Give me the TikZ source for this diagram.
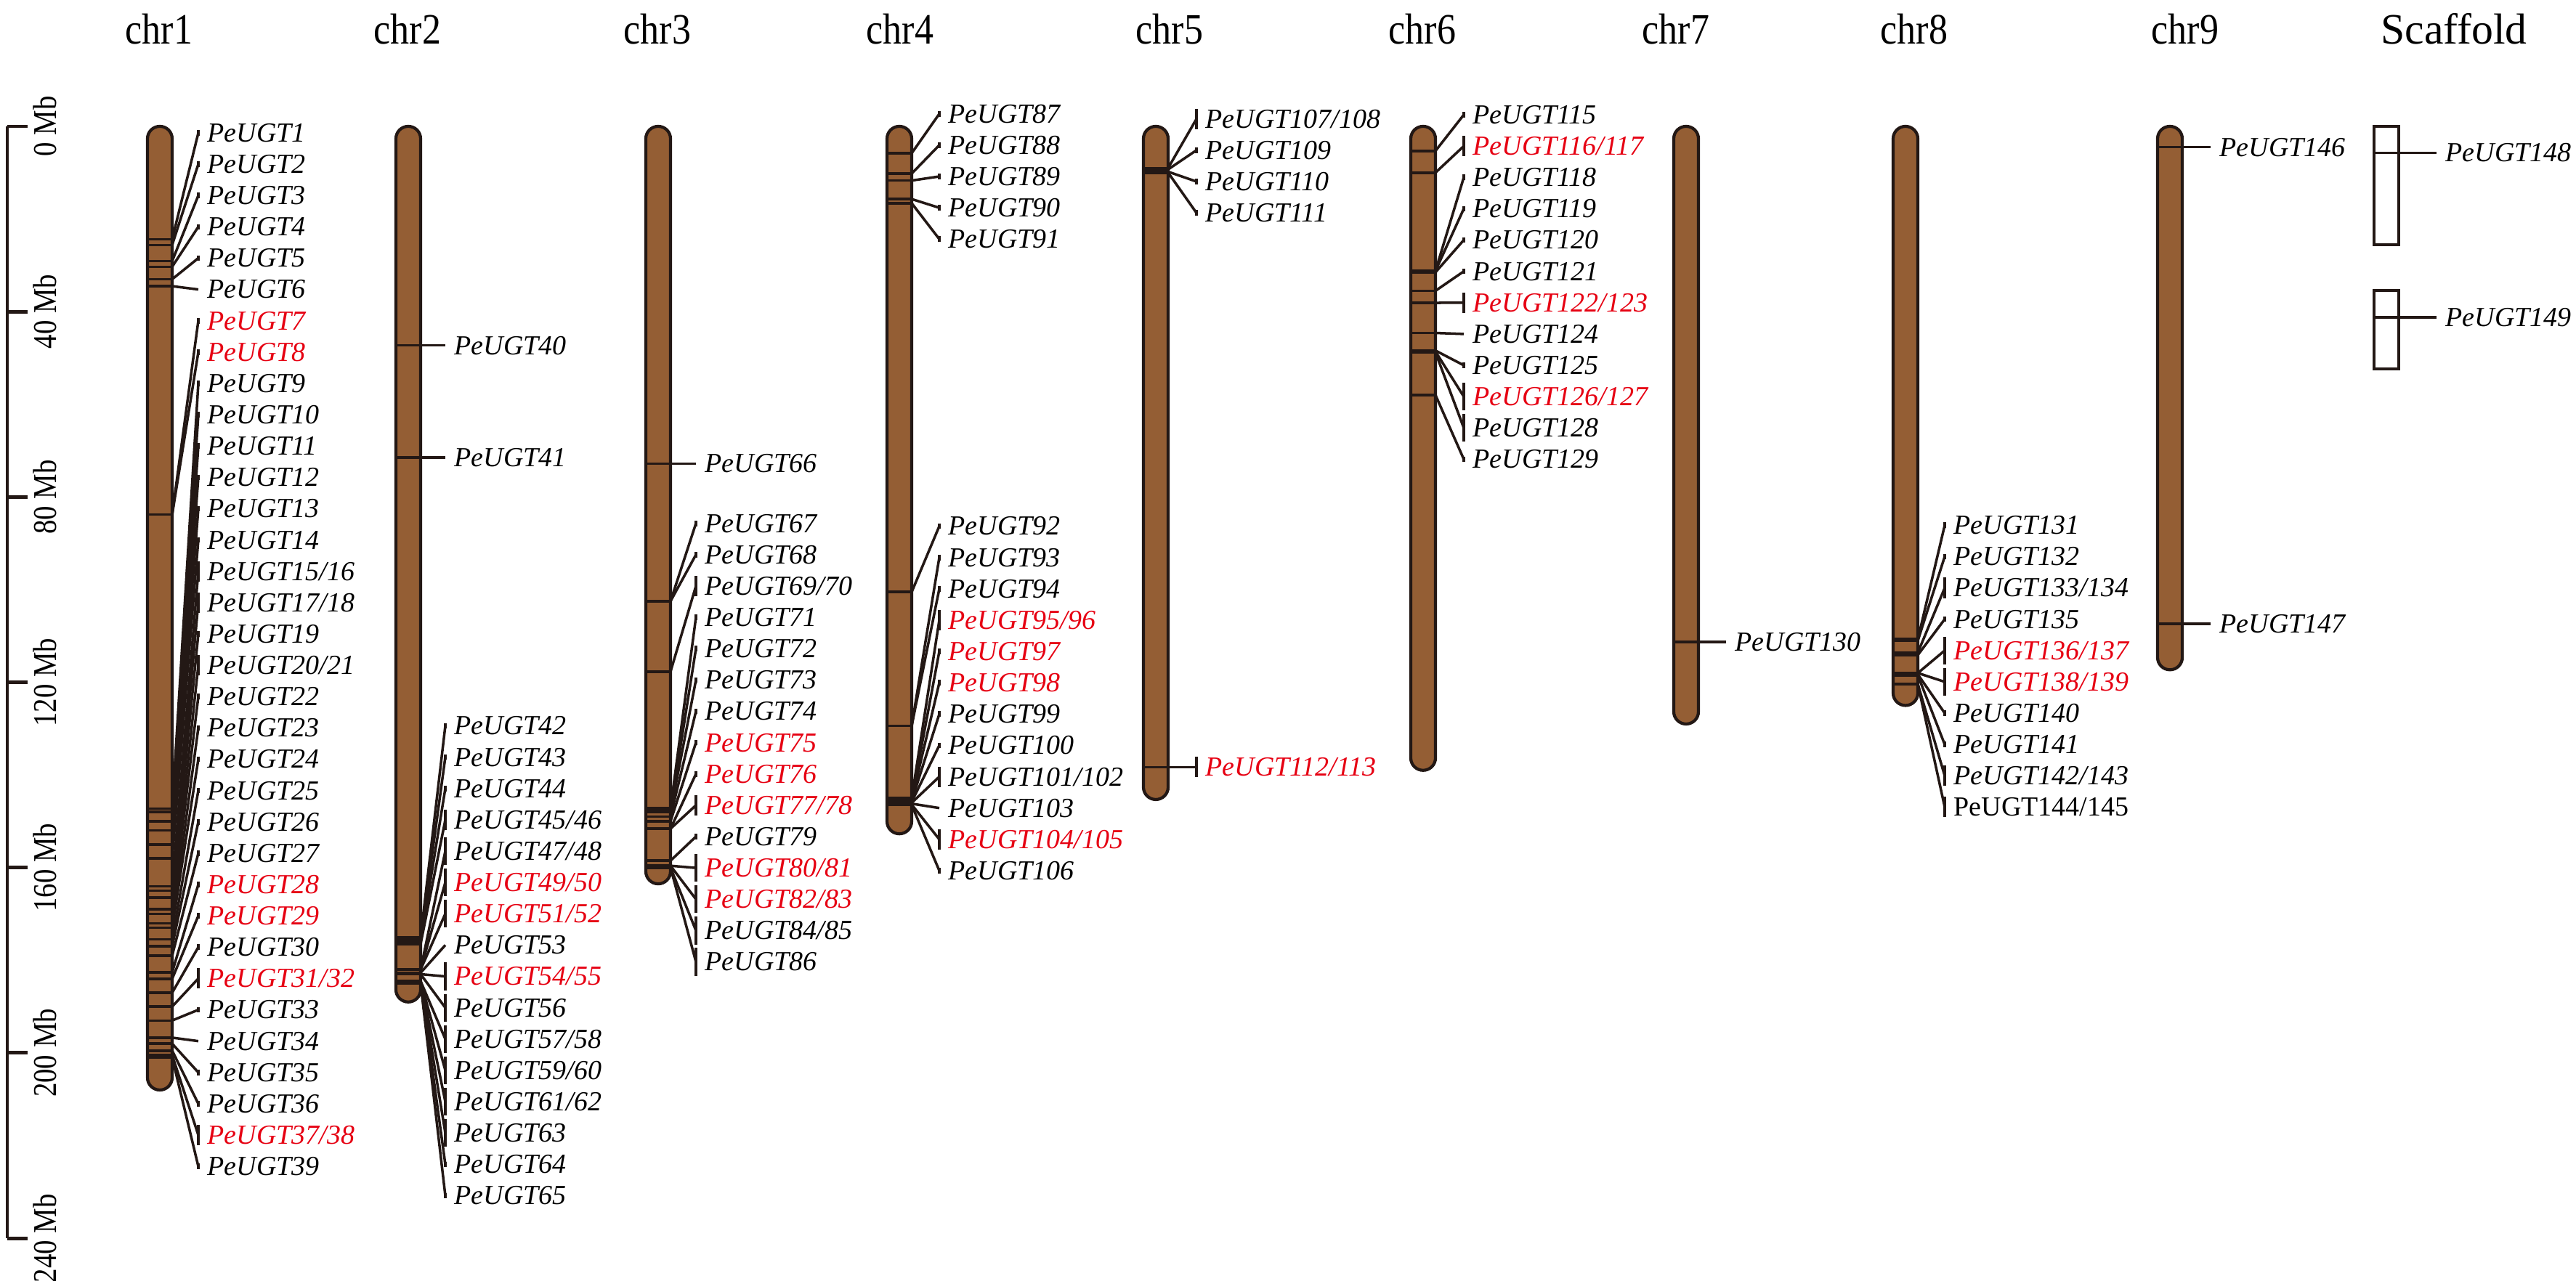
\documentclass[tikz,border=0pt]{standalone}
\usepackage{fontspec}
\setmainfont{Liberation Serif}
\usepackage{tikz}

\definecolor{chrbrown}{RGB}{148,94,52}
\definecolor{chrline}{RGB}{35,24,21}
\definecolor{ugtred}{RGB}{230,0,18}

\tikzset{
  bar/.style={fill=chrbrown, draw=chrline, line width=1.2pt, rounded corners=1.7mm},
  sbox/.style={fill=white, draw=chrline, line width=1.2pt},
  band/.style={draw=chrline, line width=1pt},
  conn/.style={draw=chrline, line width=1pt},
  axis/.style={draw=chrline, line width=1.4pt},
  lab/.style={anchor=west, inner sep=0pt, font=\fontsize{10.8}{12}\selectfont\itshape},
  blk/.style={text=black},
  hl/.style={text=ugtred},
  uprt/.style={text=black, font=\fontsize{10.8}{12}\selectfont\upshape},
  head/.style={font=\fontsize{17}{20}\selectfont},
  scalelab/.style={font=\fontsize{13}{15}\selectfont, rotate=90, xscale=0.85}
}

% one block of genes: prefix, bar left, tick x, first label y, list
\newcommand{\genegroup}[5]{%
  \foreach \g/\txt/\col/\hh [count=\kk from 0] in {#5}{%
    \pgfmathsetmacro{\ly}{#4+6.76*\kk}
    \coordinate (#1g\kk) at ({#2+34},\g);
    \coordinate (#1t\kk) at (#3,\ly);
    \node[lab,\col] (#1n\kk) at ({#3+12},\ly) {\txt};
    \draw[band] (#2,\g) -- (#1g\kk);
    \draw[conn] (#1g\kk) -- (#1t\kk);
    \draw[conn] (#3,{\ly-\hh}) -- (#3,{\ly+\hh});
  }}

\begin{document}
\begin{tikzpicture}[x=0.1mm, y=-0.638mm]
    \useasboundingbox (0,-27.27) rectangle (3546,249.2);

    % Scale
    \draw[axis] (10,0) -- (10,240);
    \foreach \v in {0,40,...,240}{
        \draw[axis] (10,\v) -- (38,\v);
        \node[scalelab] (s\v) at (62,\v) {\v\ Mb};
    }

    % Chromosomes
    \foreach \xl/\len in {203/208, 545/189, 889/163.5, 1221/152.7, 1574/145.3, 1942/139, 2304/129, 2606/125, 2970/117.3}
        \draw[bar] (\xl,0) rectangle ({\xl+34},\len);
    \draw[sbox] (3268,0) rectangle (3302,25.5);
    \draw[sbox] (3268,35.4) rectangle (3302,52.4);

    % Headers
    \foreach \xc/\nm [count=\i] in {219/chr1, 561/chr2, 905/chr3, 1239/chr4, 1610/chr5, 1958/chr6, 2307/chr7, 2635/chr8, 3008/chr9}
        \node[head, xscale=0.87] (h\i) at (\xc,-21) {\nm};
    \node[head] (h10) at (3378,-21) {Scaffold};

    % chr1
    \genegroup{a}{203}{273}{1.41}{24.4/PeUGT1/blk/0.6, 25.6/PeUGT2/blk/0.6, 29.1/PeUGT3/blk/0.6,
        30.3/PeUGT4/blk/0.6, 33/PeUGT5/blk/0.6, 34.5/PeUGT6/blk/0, 83.8/PeUGT7/hl/0.6,
        83.8/PeUGT8/hl/0.6, 147.3/PeUGT9/blk/0.6, 148/PeUGT10/blk/0.6, 150/PeUGT11/blk/0.6,
        152/PeUGT12/blk/0.6, 155/PeUGT13/blk/0.6, 158/PeUGT14/blk/0.6, 164/{PeUGT15/16}/blk/2.2,
        165/{PeUGT17/18}/blk/2.2, 166.5/PeUGT19/blk/0.6, 169/{PeUGT20/21}/blk/2.2,
        170/PeUGT22/blk/0.6, 172/PeUGT23/blk/0.6, 173/PeUGT24/blk/0.6, 175.5/PeUGT25/blk/0.6,
        177/PeUGT26/blk/0.6, 179/PeUGT27/blk/0.6, 182.6/PeUGT28/hl/0.6, 184/PeUGT29/hl/0.6,
        187/PeUGT30/blk/0.6, 190/{PeUGT31/32}/hl/2.2, 193/PeUGT33/blk/0.6, 196.7/PeUGT34/blk/0,
        198/PeUGT35/blk/0.6, 199.5/PeUGT36/blk/0.6, 200.5/{PeUGT37/38}/hl/2.2, 201/PeUGT39/blk/0.6}

    % chr2
    \genegroup{ba}{545}{613}{47.3}{47.3/PeUGT40/blk/0}
    \genegroup{bb}{545}{613}{71.5}{71.5/PeUGT41/blk/0}
    \genegroup{bc}{545}{613}{129.4}{175/PeUGT42/blk/0.6, 175.5/PeUGT43/blk/0.6, 176/PeUGT44/blk/0.6,
        176.5/{PeUGT45/46}/blk/2.2, 182/{PeUGT47/48}/blk/3, 182/{PeUGT49/50}/hl/3,
        182/{PeUGT51/52}/hl/3, 182.7/PeUGT53/blk/0, 183/{PeUGT54/55}/hl/3, 183/PeUGT56/blk/3,
        184.5/{PeUGT57/58}/blk/3, 184.5/{PeUGT59/60}/blk/3, 184.5/{PeUGT61/62}/blk/3,
        184.5/PeUGT63/blk/3, 185/PeUGT64/blk/0.6, 185/PeUGT65/blk/0.6}

    % chr3
    \genegroup{ca}{889}{958}{72.8}{72.8/PeUGT66/blk/0}
    \genegroup{cb}{889}{958}{85.7}{102.5/PeUGT67/blk/0.6, 102.5/PeUGT68/blk/0.6,
        117.7/{PeUGT69/70}/blk/2.2, 147.2/PeUGT71/blk/0.6, 147.5/PeUGT72/blk/0.6,
        148/PeUGT73/blk/0.6, 149/PeUGT74/blk/0.6, 150/PeUGT75/hl/0.6, 151.6/PeUGT76/hl/0.6,
        151.6/{PeUGT77/78}/hl/2.2, 158.5/PeUGT79/blk/0.6, 159.6/{PeUGT80/81}/hl/3,
        159.6/{PeUGT82/83}/hl/3, 160/{PeUGT84/85}/blk/3, 160/PeUGT86/blk/3}

    % chr4
    \genegroup{da}{1221}{1293}{-2.7}{5.8/PeUGT87/blk/0.6, 10.2/PeUGT88/blk/0.6,
        11.7/PeUGT89/blk/0.6, 15.7/PeUGT90/blk/0.6, 16.6/PeUGT91/blk/0.6}
    \genegroup{db}{1221}{1293}{86.3}{100.5/PeUGT92/blk/0.6, 129.4/PeUGT93/blk/0.6,
        129.4/PeUGT94/blk/0.6, 145/{PeUGT95/96}/hl/2.2, 145.2/PeUGT97/hl/0.6,
        145.4/PeUGT98/hl/0.6, 145.6/PeUGT99/blk/0.6, 145.8/PeUGT100/blk/0.6,
        146/{PeUGT101/102}/blk/2.2, 146.2/PeUGT103/blk/0, 146.4/{PeUGT104/105}/hl/2.2,
        146.5/PeUGT106/blk/0.6}

    % chr5
    \genegroup{ea}{1574}{1647}{-1.6}{9/{PeUGT107/108}/blk/2.2, 9.3/PeUGT109/blk/0.6,
        9.8/PeUGT110/blk/0.6, 10/PeUGT111/blk/0.6}
    \genegroup{eb}{1574}{1647}{138.3}{138.3/{PeUGT112/113}/hl/2.2}

    % chr6
    \genegroup{fa}{1942}{2015}{-2.5}{5.3/PeUGT115/blk/0.6, 10/{PeUGT116/117}/hl/2.2,
        31.2/PeUGT118/blk/0.6, 31.2/PeUGT119/blk/0.6, 31.5/PeUGT120/blk/0.6,
        35.5/PeUGT121/blk/0.6, 38.1/{PeUGT122/123}/hl/2.2, 44.6/PeUGT124/blk/0,
        48.4/PeUGT125/blk/0.6, 48.6/{PeUGT126/127}/hl/3, 48.8/PeUGT128/blk/3,
        58/PeUGT129/blk/0.6}

    % chr7
    \genegroup{ga}{2304}{2376}{111.3}{111.3/PeUGT130/blk/0}

    % chr8
    \genegroup{ha}{2606}{2677}{86.1}{110.7/PeUGT131/blk/0.6, 111/PeUGT132/blk/0.6,
        113.6/{PeUGT133/134}/blk/2.2, 114.1/PeUGT135/blk/0.6, 118/{PeUGT136/137}/hl/3,
        118/{PeUGT138/139}/hl/3, 118.3/PeUGT140/blk/0.6, 118.5/PeUGT141/blk/0.6,
        120.4/{PeUGT142/143}/blk/2.2, 120.4/{PeUGT144/145}/uprt/2.2}

    % chr9
    \genegroup{ia}{2970}{3043}{4.5}{4.5/PeUGT146/blk/0}
    \genegroup{ib}{2970}{3043}{107.4}{107.4/PeUGT147/blk/0}

    % Scaffold
    \genegroup{sa}{3268}{3354}{5.7}{5.7/PeUGT148/blk/0}
    \genegroup{sb}{3268}{3354}{41.2}{41.2/PeUGT149/blk/0}
\end{tikzpicture}
\end{document}
